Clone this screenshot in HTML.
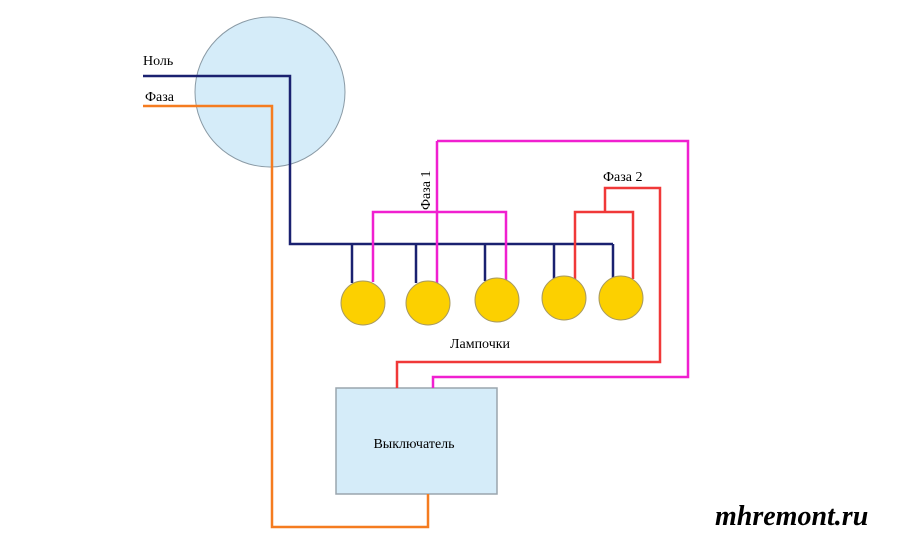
<!DOCTYPE html>
<html><head><meta charset="utf-8"><style>body{margin:0;background:#fff}svg{display:block}</style></head><body>
<svg width="900" height="540" xmlns="http://www.w3.org/2000/svg" font-family="'Liberation Serif',serif">
<circle cx="270" cy="92" r="75" fill="#d5ecf9" stroke="#8a9aa5" stroke-width="1"/>
<rect x="336" y="388" width="161" height="106" fill="#d5ecf9" stroke="#9aa5ad" stroke-width="1.5"/>
<g fill="none" stroke-width="2.5">
<polyline points="143,76 290,76 290,244 613,244" stroke="#1a2170"/>
<g stroke="#1a2170"><line x1="352" y1="244" x2="352" y2="283"/><line x1="416" y1="244" x2="416" y2="283"/><line x1="485" y1="244" x2="485" y2="281"/><line x1="554" y1="244" x2="554" y2="279"/><line x1="613" y1="244" x2="613" y2="279"/></g>
<polyline points="143,106 272,106 272,527 428,527 428,494" stroke="#f57c20"/>
<g stroke="#f020d0"><polyline points="373,282 373,212 506,212 506,280"/><line x1="437" y1="141" x2="437" y2="283"/><polyline points="437,141 688,141 688,377 433,377 433,388"/></g>
<g stroke="#f03838"><polyline points="575,279 575,212 633,212 633,279"/><polyline points="605,212 605,188 660,188 660,362 397,362 397,388"/></g>
</g>
<g fill="#fcd000" stroke="#a89a60" stroke-width="1"><circle cx="363" cy="303" r="22"/><circle cx="428" cy="303" r="22"/><circle cx="497" cy="300" r="22"/><circle cx="564" cy="298" r="22"/><circle cx="621" cy="298" r="22"/></g>
<g font-size="14" fill="#000">
<text x="143" y="65">Ноль</text>
<text x="145" y="101">Фаза</text>
<text x="603" y="181">Фаза 2</text>
<text x="450" y="348">Лампочки</text>
<text x="414" y="448" text-anchor="middle">Выключатель</text>
<text transform="translate(430,210) rotate(-90)">Фаза 1</text>
</g>
<text x="715" y="525" font-family="'Liberation Serif',serif" font-style="italic" font-weight="bold" font-size="28" fill="#000">mhremont.ru</text>
</svg>
</body></html>
